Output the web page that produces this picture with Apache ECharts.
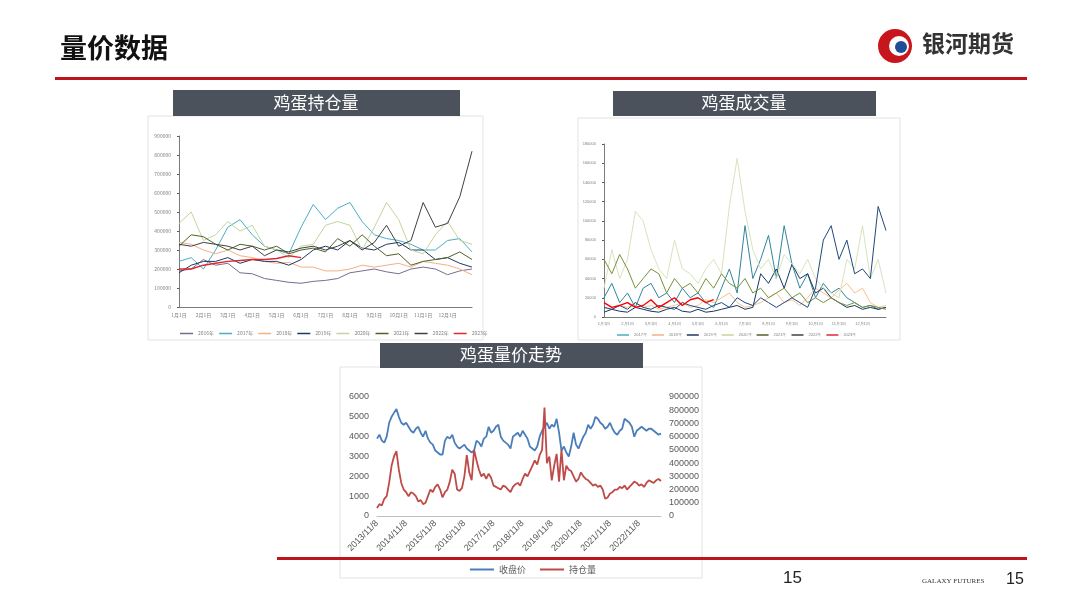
<!DOCTYPE html>
<html><head><meta charset="utf-8">
<script src="https://cdn.jsdelivr.net/npm/echarts@6/dist/echarts.min.js"></script>
<style>html,body{margin:0;padding:0;background:#fff}#c{width:1080px;height:608px}</style>
</head><body><div id="c"></div>
<script>
// ---- top-left: 鸡蛋持仓量 (half-month points) ----
const oiCats = ['1月1日','','2月1日','','3月1日','','4月1日','','5月1日','','6月1日','','7月1日','','8月1日','','9月1日','','10月1日','','11月1日','','12月1日','',''];
const oiYears = ['2016年','2017年','2018年','2019年','2020年','2021年','2022年','2023年'];
const oiColors = ['#7b6b8f','#4bacc6','#f4b183','#1f3864','#c3d69b','#4f6228','#404040','#e0282e'];
const oi2016 = [190000,200000,250000,220000,230000,180000,175000,150000,140000,130000,125000,135000,140000,150000,180000,190000,200000,185000,175000,200000,210000,200000,170000,190000,200000];
const oi2017 = [240000,260000,200000,300000,420000,460000,380000,320000,300000,280000,420000,540000,460000,520000,550000,450000,380000,360000,350000,330000,300000,300000,350000,360000,290000];
const oi2018 = [340000,330000,300000,280000,300000,270000,260000,240000,230000,235000,210000,210000,190000,190000,200000,220000,210000,220000,230000,210000,240000,230000,220000,200000,170000];
const oi2019 = [180000,220000,240000,240000,260000,230000,250000,240000,240000,220000,250000,300000,320000,300000,350000,310000,300000,330000,340000,300000,300000,250000,260000,230000,210000];
const oi2020 = [440000,500000,350000,380000,450000,400000,430000,320000,300000,260000,320000,330000,430000,450000,430000,300000,420000,550000,460000,300000,280000,380000,450000,350000,330000];
const oi2021 = [320000,380000,370000,330000,300000,330000,320000,300000,320000,280000,300000,310000,290000,360000,320000,380000,320000,270000,280000,220000,240000,250000,260000,290000,250000];
const oi2022 = [330000,320000,340000,330000,320000,300000,320000,270000,300000,290000,310000,320000,300000,320000,350000,300000,340000,430000,320000,350000,550000,420000,440000,580000,820000];
const oi2023 = [200000,200000,220000,230000,240000,245000,250000,250000,255000,270000,260000];

// ---- top-right: 鸡蛋成交量 (10-day points) ----
const volCats = ['1月1日','','','2月1日','','','3月1日','','','4月1日','','','5月1日','','','6月1日','','','7月1日','','','8月1日','','','9月1日','','','10月1日','','','11月1日','','','12月1日','','',''];
const volYears = ['2017年','2018年','2019年','2020年','2021年','2022年','2023年'];
const volColors = ['#31859c','#fac090','#17375e','#d7e4bd','#76923c','#1f497d','#ff0000'];
const vol2017 = [20000,35000,15000,25000,10000,30000,35000,20000,25000,15000,30000,20000,25000,15000,10000,30000,50000,25000,95000,40000,60000,85000,40000,95000,55000,30000,45000,20000,35000,25000,30000,20000,15000,10000,12000,8000,10000];
const vol2018 = [10000,8000,12000,10000,15000,10000,12000,8000,10000,12000,15000,10000,12000,18000,15000,20000,25000,15000,10000,12000,15000,20000,25000,15000,18000,12000,20000,30000,25000,20000,28000,35000,25000,30000,15000,10000,12000];
const vol2019 = [5000,8000,6000,5000,10000,8000,6000,5000,8000,10000,6000,5000,8000,5000,6000,8000,10000,12000,8000,10000,45000,35000,50000,30000,55000,40000,45000,25000,30000,20000,15000,10000,12000,8000,10000,8000,10000];
const vol2020 = [30000,70000,40000,60000,110000,100000,70000,50000,40000,80000,50000,45000,35000,50000,60000,45000,115000,165000,110000,70000,50000,60000,40000,65000,55000,45000,60000,40000,30000,25000,20000,60000,50000,95000,40000,60000,25000];
const vol2021 = [60000,45000,65000,50000,30000,40000,50000,45000,25000,40000,30000,35000,25000,40000,30000,45000,35000,30000,40000,25000,30000,20000,25000,30000,20000,25000,15000,20000,15000,20000,15000,12000,15000,10000,12000,10000,8000];
const vol2022 = [10000,8000,12000,8000,15000,10000,8000,12000,10000,8000,15000,12000,10000,8000,12000,15000,10000,20000,15000,12000,20000,15000,10000,15000,20000,15000,10000,30000,80000,95000,60000,80000,45000,50000,40000,115000,90000];
const vol2023 = [15000,10000,12000,15000,10000,12000,18000,10000,15000,20000,12000,18000,20000,15000,18000];

// ---- bottom: 鸡蛋量价走势 (monthly from 2013/11) ----
const pxNames = ['收盘价','持仓量'];
const closePrice = [3900,4100,3800,3700,4000,4700,5000,5200,5400,5000,4700,4600,4700,4500,4300,4200,4400,4500,4200,4000,4300,3900,3700,3600,3300,3200,3100,3100,3800,4000,3900,4100,3700,3500,3400,3500,3600,3400,3300,3200,3300,3800,3700,3500,3900,4000,4500,4200,4300,4500,4600,4000,3800,3700,3600,3400,4000,4100,4200,4000,4300,4100,3900,3500,3400,3300,3500,4000,4300,4500,4700,4400,4600,4500,4900,4200,3300,3500,3200,3000,3500,4200,3600,3400,3700,4000,4200,4600,4400,4600,5000,4900,4700,4600,4400,4500,4700,4400,4200,4100,4300,4400,4900,4800,4700,4500,4000,4300,4400,4500,4400,4300,4400,4400,4300,4200,4100,4150];
const openInterest = [60000,90000,80000,130000,150000,250000,380000,450000,490000,350000,250000,200000,180000,150000,180000,170000,150000,110000,120000,90000,100000,150000,200000,180000,220000,240000,200000,140000,180000,200000,260000,350000,320000,200000,190000,210000,300000,460000,330000,270000,500000,420000,350000,300000,320000,280000,320000,290000,230000,220000,210000,200000,230000,220000,200000,180000,220000,240000,250000,230000,280000,320000,300000,340000,380000,420000,390000,460000,500000,820000,400000,450000,270000,380000,470000,260000,500000,270000,380000,350000,340000,300000,260000,280000,330000,300000,280000,270000,250000,230000,240000,220000,230000,200000,130000,140000,170000,180000,200000,200000,220000,210000,230000,200000,220000,240000,260000,250000,230000,240000,220000,250000,270000,260000,250000,270000,280000,265000];
const pxCats = [];
for (let i = 0; i < closePrice.length; i++) {
  const m0 = 10 + i; const y = 2013 + Math.floor(m0 / 12); const m = (m0 % 12) + 1;
  pxCats.push(y + '/' + m + '/8');
}

const chart = echarts.init(document.getElementById('c'));
const plain = v => String(v);
const small = {fontSize: 5, color: '#7f7f7f', fontFamily: 'Noto Sans CJK SC'};
function axisLine(){return {show:true,lineStyle:{color:'#595959',width:0.8}};}

const series = [];
[oi2016,oi2017,oi2018,oi2019,oi2020,oi2021,oi2022,oi2023].forEach((d,i)=>{
  series.push({name:oiYears[i],type:'line',xAxisIndex:0,yAxisIndex:0,data:d,showSymbol:false,
    lineStyle:{width:i===7?1.4:1,color:oiColors[i]},itemStyle:{color:oiColors[i]},z:i===6||i===7?5:2});
});
[vol2017,vol2018,vol2019,vol2020,vol2021,vol2022,vol2023].forEach((d,i)=>{
  series.push({name:volYears[i],type:'line',xAxisIndex:1,yAxisIndex:1,data:d,showSymbol:false,
    lineStyle:{width:i===6?1.4:1,color:volColors[i]},itemStyle:{color:volColors[i]}});
});
series.push({name:'收盘价',type:'line',xAxisIndex:2,yAxisIndex:2,data:closePrice,showSymbol:false,lineStyle:{width:1.8,color:'#4a7ebb'},itemStyle:{color:'#4a7ebb'}});
series.push({name:'持仓量',type:'line',xAxisIndex:2,yAxisIndex:3,data:openInterest,showSymbol:false,lineStyle:{width:1.8,color:'#be4b48'},itemStyle:{color:'#be4b48'}});

const bar = '#4b525c';
chart.setOption({
  animation:false,
  graphic:[
    {type:'text',left:60,top:34,style:{text:'量价数据',fontSize:27,fontWeight:'bold',fill:'#111',fontFamily:'Noto Sans CJK SC'}},
    {type:'rect',shape:{x:55,y:77,width:972,height:3},style:{fill:'#c0141b'}},
    {type:'circle',shape:{cx:895,cy:46,r:17},style:{fill:'#c8161d'}},
    {type:'circle',shape:{cx:899,cy:46,r:10},style:{fill:'#fff'}},
    {type:'circle',shape:{cx:901,cy:47,r:6},style:{fill:'#1f4e96'}},
    {type:'text',left:922,top:32,style:{text:'银河期货',fontSize:23,fontWeight:'bold',fill:'#333',fontFamily:'Noto Sans CJK SC'}},
    {type:'rect',shape:{x:277,y:557,width:750,height:3},style:{fill:'#c0141b'}},
    {type:'text',left:783,top:570,style:{text:'15',fontSize:17,fill:'#222',fontFamily:'Liberation Sans'}},
    {type:'text',left:922,top:578,style:{text:'GALAXY FUTURES',fontSize:7,fill:'#333',fontFamily:'Liberation Serif'}},
    {type:'text',left:1006,top:572,style:{text:'15',fontSize:16,fill:'#222',fontFamily:'Liberation Sans'}},
    {type:'rect',shape:{x:148,y:116,width:335,height:224},style:{fill:'#fff',stroke:'#e3e3e3',lineWidth:1},z:-10},
    {type:'rect',shape:{x:578,y:118,width:322,height:222},style:{fill:'#fff',stroke:'#e3e3e3',lineWidth:1},z:-10},
    {type:'rect',shape:{x:340,y:367,width:362,height:211},style:{fill:'#fff',stroke:'#e3e3e3',lineWidth:1},z:-10},
    {type:'rect',shape:{x:173,y:90,width:287,height:26},style:{fill:bar}},
    {type:'text',x:316,y:103,style:{text:'鸡蛋持仓量',fontSize:17,fill:'#fff',align:'center',verticalAlign:'middle',fontFamily:'Noto Sans CJK SC'}},
    {type:'rect',shape:{x:613,y:91,width:263,height:25},style:{fill:bar}},
    {type:'text',x:744,y:103,style:{text:'鸡蛋成交量',fontSize:17,fill:'#fff',align:'center',verticalAlign:'middle',fontFamily:'Noto Sans CJK SC'}},
    {type:'rect',shape:{x:380,y:343,width:263,height:25},style:{fill:bar}},
    {type:'text',x:511,y:355,style:{text:'鸡蛋量价走势',fontSize:17,fill:'#fff',align:'center',verticalAlign:'middle',fontFamily:'Noto Sans CJK SC'}}
  ],
  legend:[
    {data:oiYears,left:175,top:326,itemGap:5,itemWidth:13,itemHeight:1.5,icon:'rect',textStyle:small},
    {data:volYears,left:612,top:328,itemGap:5,itemWidth:12,itemHeight:1.5,icon:'rect',textStyle:{fontSize:4,color:'#7f7f7f'}},
    {data:pxNames,left:465,top:560,itemGap:14,itemWidth:24,itemHeight:2,icon:'rect',textStyle:{fontSize:9,color:'#595959',fontFamily:'Noto Sans CJK SC'}}
  ],
  grid:[
    {left:179,top:136,width:293,height:171},
    {left:604,top:144,width:282,height:173},
    {left:377,top:397,width:284,height:119}
  ],
  xAxis:[
    {type:'category',gridIndex:0,data:oiCats,boundaryGap:false,axisLine:axisLine(),axisTick:{show:false},axisLabel:Object.assign({interval:0,margin:6},small)},
    {type:'category',gridIndex:1,data:volCats,boundaryGap:false,axisLine:axisLine(),axisTick:{show:false},axisLabel:{interval:0,margin:5,fontSize:4,color:'#7f7f7f'}},
    {type:'category',gridIndex:2,data:pxCats,boundaryGap:false,axisLine:{lineStyle:{color:'#bfbfbf'}},axisTick:{show:false},axisLabel:{interval:11,rotate:45,fontSize:9,color:'#595959',margin:6}}
  ],
  yAxis:[
    {type:'value',gridIndex:0,min:0,max:900000,interval:100000,splitLine:{show:false},axisLine:axisLine(),axisTick:{show:true,length:2},axisLabel:Object.assign({formatter:plain},small)},
    {type:'value',gridIndex:1,min:0,max:180000,interval:20000,splitLine:{show:false},axisLine:axisLine(),axisTick:{show:true,length:2},axisLabel:{formatter:plain,fontSize:4,color:'#7f7f7f'}},
    {type:'value',gridIndex:2,min:0,max:6000,interval:1000,splitLine:{show:false},axisLine:{show:false},axisLabel:{formatter:plain,fontSize:9,color:'#595959'}},
    {type:'value',gridIndex:2,position:'right',min:0,max:900000,interval:100000,splitLine:{show:false},axisLine:{show:false},axisLabel:{formatter:plain,fontSize:9,color:'#595959'}}
  ],
  series:series
});
</script></body></html>
